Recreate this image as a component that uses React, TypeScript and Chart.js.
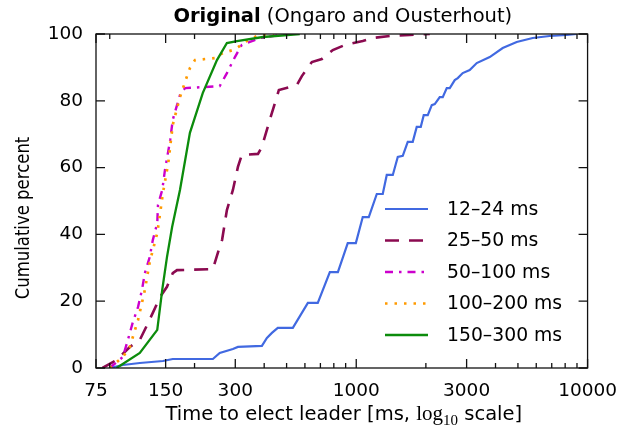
import React, { useEffect, useRef } from 'react';
import { Chart, registerables } from 'chart.js';

Chart.register(...registerables);

// ---------- data ----------
const SERIES_LABELS = ['12–24 ms', '25–50 ms', '50–100 ms', '100–200 ms', '150–300 ms'];

const X_TICKS = [75, 150, 300, 1000, 3000, 10000];
const X_MINOR_TICKS = [86, 200, 400, 500, 600, 700, 800, 900, 2000, 4000, 5000, 6000, 7000, 8000, 9000];
const Y_TICKS = [0, 20, 40, 60, 80, 100];

const BLUE_X = [86, 98, 116, 146, 161, 240, 257, 293, 308, 391, 411, 432, 458, 532, 618, 682, 769, 833, 919, 996, 1067, 1133, 1227, 1302, 1355, 1439, 1512, 1589, 1670, 1755, 1826, 1901, 1958, 2038, 2121, 2185, 2296, 2366, 2462, 2537, 2666, 2747, 2886, 3094, 3318, 3776, 4297, 4939, 5790, 6857, 8122, 8971];
const BLUE_Y = [0, 0.9, 1.5, 2.1, 2.7, 2.7, 4.5, 5.7, 6.3, 6.6, 9.0, 10.5, 12.0, 12.0, 19.5, 19.5, 28.7, 28.7, 37.4, 37.4, 45.2, 45.2, 52.1, 52.1, 57.8, 57.8, 63.2, 63.5, 67.7, 67.7, 72.2, 72.2, 75.7, 75.7, 78.7, 79.0, 81.1, 81.1, 83.8, 83.8, 86.2, 86.8, 88.3, 89.2, 91.3, 93.1, 95.8, 97.6, 98.8, 99.4, 99.7, 100];

const RED_X = [80, 92, 105, 116, 126, 132, 142, 152, 161, 168, 240, 252, 263, 276, 293, 308, 320, 376, 391, 423, 463, 554, 582, 643, 710, 792, 892, 1067, 1179, 1396, 1703, 2079];
const RED_Y = [0, 2.4, 6.3, 8.4, 13.5, 16.5, 21.3, 24.3, 28.4, 29.3, 29.6, 34.4, 38.3, 47.3, 53.3, 60.2, 63.8, 64.1, 66.2, 74.3, 83.2, 84.7, 87.4, 91.6, 92.5, 95.2, 96.7, 97.9, 98.8, 99.4, 99.7, 100];

const MAGENTA_X = [86, 89, 98, 103, 108, 114, 118.5, 122, 128, 132, 138, 139, 145, 149, 157, 161, 168, 173, 182, 217, 257, 276, 299, 320, 383, 468, 501];
const MAGENTA_Y = [0, 0.9, 3.3, 8.4, 13.5, 18.3, 23.4, 28.4, 33.2, 38.3, 43.4, 48.8, 53.3, 59.3, 68.3, 74.3, 78.7, 81.7, 83.8, 84.1, 84.4, 88.3, 93.1, 96.7, 98.8, 99.7, 100];

const ORANGE_X = [86, 98, 105, 114, 122, 128, 138, 142, 146, 154, 161, 173, 185, 191, 201, 245, 265, 293, 314, 330, 372, 403, 440];
const ORANGE_Y = [0, 3.3, 6.3, 14.4, 23.4, 31.7, 40.4, 46.4, 52.4, 61.4, 72.8, 81.1, 87.1, 89.8, 92.2, 92.8, 94.3, 95.2, 96.4, 97.6, 99.4, 99.7, 100];

const GREEN_X = [92, 116, 138, 145, 152, 160, 173, 191, 217, 250, 276, 305, 395, 570];
const GREEN_Y = [0, 4.5, 11.4, 23.4, 33.2, 42.2, 53.3, 70.4, 82.3, 92.2, 97.3, 97.9, 99.1, 100];

const SERIES_X = [BLUE_X, RED_X, MAGENTA_X, ORANGE_X, GREEN_X];
const SERIES_Y = [BLUE_Y, RED_Y, MAGENTA_Y, ORANGE_Y, GREEN_Y];

const COLORS = ['#4169e1', '#8b0a50', '#cc00cc', '#ff9a00', '#0c8c0c'];
const DASHES: number[][] = [[], [14, 10], [8, 6, 2.5, 6], [2.5, 7], []];
const WIDTHS = [2.2, 2.6, 2.4, 2.7, 2.3];

const TITLE_BOLD = 'Original';
const TITLE_REST = ' (Ongaro and Ousterhout)';
const X_TITLE_PRE = 'Time to elect leader [ms, ';
const X_TITLE_LOG = 'log';
const X_TITLE_SUB = '10';
const X_TITLE_POST = ' scale]';
const Y_TITLE = 'Cumulative percent';

const SANS = '"DejaVu Sans", "Liberation Sans", sans-serif';

type Seg = { text: string; font: string; dy?: number };

function drawRuns(ctx: CanvasRenderingContext2D, segs: Seg[], cx: number, baseline: number) {
  let total = 0;
  const widths = segs.map((s) => {
    ctx.font = s.font;
    const w = ctx.measureText(s.text).width;
    total += w;
    return w;
  });
  let x = cx - total / 2;
  ctx.textAlign = 'left';
  ctx.textBaseline = 'alphabetic';
  segs.forEach((s, i) => {
    ctx.font = s.font;
    ctx.fillText(s.text, x, baseline + (s.dy || 0));
    x += widths[i];
  });
}

const decorPlugin = {
  id: 'decor',
  afterDatasetsDraw(chart: any) {
    const { ctx, chartArea: a, scales } = chart;
    const xs = scales.x;
    const ys = scales.y;
    ctx.save();
    ctx.strokeStyle = '#111';
    ctx.lineWidth = 1.3;
    ctx.setLineDash([]);
    ctx.strokeRect(a.left, a.top, a.right - a.left, a.bottom - a.top);
    ctx.beginPath();
    const majorLen = 9;
    const minorLen = 5;
    X_TICKS.forEach((v) => {
      const px = xs.getPixelForValue(v);
      ctx.moveTo(px, a.bottom);
      ctx.lineTo(px, a.bottom - majorLen);
      ctx.moveTo(px, a.top);
      ctx.lineTo(px, a.top + majorLen);
    });
    X_MINOR_TICKS.forEach((v) => {
      const px = xs.getPixelForValue(v);
      ctx.moveTo(px, a.bottom);
      ctx.lineTo(px, a.bottom - minorLen);
      ctx.moveTo(px, a.top);
      ctx.lineTo(px, a.top + minorLen);
    });
    Y_TICKS.forEach((v) => {
      const py = ys.getPixelForValue(v);
      ctx.moveTo(a.left, py);
      ctx.lineTo(a.left + majorLen, py);
      ctx.moveTo(a.right, py);
      ctx.lineTo(a.right - majorLen, py);
    });
    ctx.stroke();

    ctx.fillStyle = '#000';
    const cx = (a.left + a.right) / 2;
    // title
    drawRuns(ctx, [
      { text: TITLE_BOLD, font: `bold 19.5px ${SANS}` },
      { text: TITLE_REST, font: `19.5px ${SANS}` },
    ], cx + 1, 22);
    // x title
    drawRuns(ctx, [
      { text: X_TITLE_PRE, font: `19.5px ${SANS}` },
      { text: X_TITLE_LOG, font: '21px "Liberation Serif", serif' },
      { text: X_TITLE_SUB, font: '15px "Liberation Serif", serif', dy: 5 },
      { text: X_TITLE_POST, font: `19.5px ${SANS}` },
    ], cx + 2, 420);
    // y title
    ctx.save();
    ctx.translate(24, 218);
    ctx.scale(1.2, 1);
    ctx.rotate(-Math.PI / 2);
    ctx.font = `16.5px ${SANS}`;
    ctx.textAlign = 'center';
    ctx.textBaseline = 'middle';
    ctx.fillText(Y_TITLE, 0, 0);
    ctx.restore();

    // legend
    const rowY = [209, 240.5, 272, 303.5, 335];
    chart.data.datasets.forEach((ds: any, i: number) => {
      const y = rowY[i];
      ctx.save();
      ctx.beginPath();
      ctx.strokeStyle = ds.borderColor;
      ctx.lineWidth = ds.borderWidth;
      ctx.setLineDash(ds.borderDash || []);
      ctx.moveTo(385, y);
      ctx.lineTo(428, y);
      ctx.stroke();
      ctx.restore();
      ctx.font = `18.8px ${SANS}`;
      ctx.textAlign = 'left';
      ctx.textBaseline = 'middle';
      ctx.fillStyle = '#000';
      ctx.fillText(ds.label, 447, y + 1);
    });
    ctx.restore();
  },
};

export default function App() {
  const canvasRef = useRef<HTMLCanvasElement | null>(null);

  useEffect(() => {
    if (!canvasRef.current) return;
    const datasets = SERIES_LABELS.map((label, i) => ({
      label,
      data: SERIES_X[i].map((x, j) => ({ x, y: SERIES_Y[i][j] })),
      borderColor: COLORS[i],
      backgroundColor: COLORS[i],
      borderWidth: WIDTHS[i],
      borderDash: DASHES[i],
      borderCapStyle: 'butt',
      pointRadius: 0,
      tension: 0,
      fill: false,
      order: 5 - i,
    }));
    const tickFont = { family: SANS, size: 18.5 };
    const chart = new Chart(canvasRef.current, {
      type: 'line',
      data: { datasets } as any,
      options: {
        animation: false,
        responsive: false,
        devicePixelRatio: 1,
        layout: { padding: { top: 34, right: 41, left: 0, bottom: 0 } },
        plugins: {
          legend: { display: false },
          title: { display: false },
          tooltip: { enabled: false },
        },
        scales: {
          x: {
            type: 'logarithmic',
            position: 'bottom',
            min: 75,
            max: 10000,
            grid: { display: false, drawTicks: false },
            border: { display: false },
            ticks: {
              font: tickFont,
              color: '#000',
              padding: 12,
              autoSkip: false,
              maxRotation: 0,
              callback: (v: any) => String(v),
            },
            afterBuildTicks: (s: any) => {
              s.ticks = X_TICKS.map((v) => ({ value: v }));
            },
            afterFit: (s: any) => {
              s.height = 63;
            },
          },
          y: {
            type: 'linear',
            min: 0,
            max: 100,
            grid: { display: false, drawTicks: false },
            border: { display: false },
            ticks: {
              font: tickFont,
              color: '#000',
              padding: 13,
              callback: (v: any) => String(v),
            },
            afterBuildTicks: (s: any) => {
              s.ticks = Y_TICKS.map((v) => ({ value: v }));
            },
            afterFit: (s: any) => {
              s.width = 96;
            },
          },
        },
      } as any,
      plugins: [decorPlugin],
    });
    return () => chart.destroy();
  }, []);

  return (
    <div style={{ position: 'absolute', left: 0, top: 0, width: 629, height: 431, background: '#fff' }}>
      <canvas ref={canvasRef} width={629} height={431} style={{ display: 'block', width: 629, height: 431 }} />
    </div>
  );
}
